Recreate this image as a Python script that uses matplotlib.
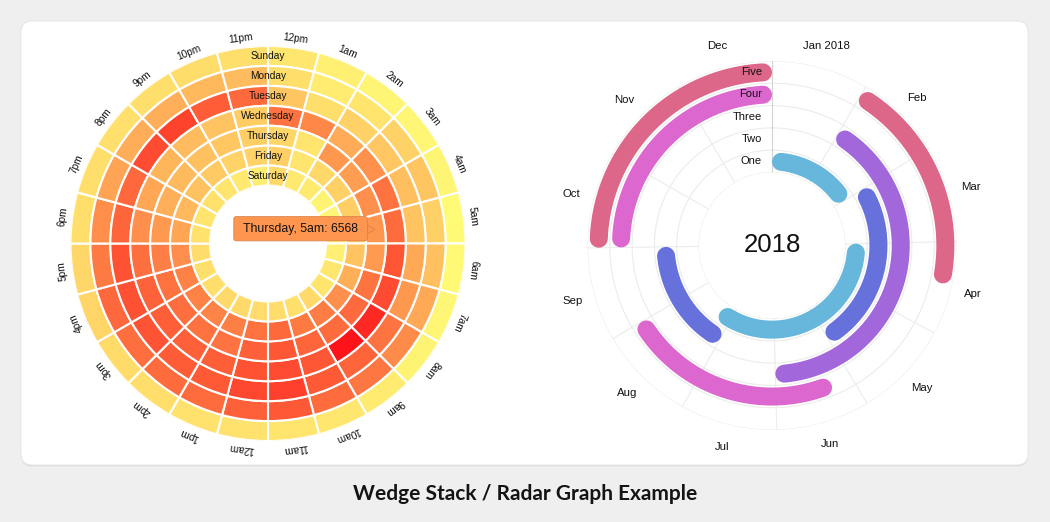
import numpy as np
import matplotlib
matplotlib.use("Agg")
import matplotlib.pyplot as plt
from matplotlib.colors import LinearSegmentedColormap, Normalize
from matplotlib.patches import FancyBboxPatch

plt.rcParams['font.family'] = ['Liberation Sans', 'DejaVu Sans']

# heat map data: hours clockwise from the top, days from the outer ring inwards
hours = ["12pm", "1am", "2am", "3am", "4am", "5am", "6am", "7am", "8am", "9am", "10am", "11am",
         "12am", "1pm", "2pm", "3pm", "4pm", "5pm", "6pm", "7pm", "8pm", "9pm", "10pm", "11pm"]
days = ["Sunday", "Monday", "Tuesday", "Wednesday", "Thursday", "Friday", "Saturday"]

sunday = [2990, 2520, 2334, 2230, 2325, 2019, 2128, 2246, 2421, 2788, 2959, 3018,
          3154, 3172, 3368, 3464, 3746, 3656, 3336, 3292, 3269, 3300, 3403, 3323]
monday = [3346, 2725, 3052, 3876, 4453, 3972, 4644, 5715, 7080, 8022, 8446, 9313,
          9011, 8508, 8515, 8399, 8649, 7869, 6933, 5969, 5552, 5434, 5070, 4851]
tuesday = [4468, 3306, 3906, 4413, 4726, 4584, 5717, 6504, 8104, 8813, 9278, 10425,
           10137, 9290, 9255, 9614, 9713, 9667, 8774, 8649, 9937, 10286, 9175, 8581]
wednesday = [8145, 7177, 5657, 6802, 8159, 8449, 9453, 9947, 11471, 12492, 9388, 9928,
             9644, 9034, 8964, 9069, 8898, 8322, 6909, 5810, 5151, 4911, 4487, 4118]
thursday = [3689, 3081, 6525, 6228, 6917, 6568, 6405, 8106, 8542, 8501, 8802, 9420,
            8966, 8135, 8224, 8387, 8218, 7641, 6469, 5441, 4952, 4643, 4393, 4017]
friday = [4022, 3063, 3638, 3968, 4070, 4019, 4548, 5465, 6909, 7706, 7867, 8615,
          8218, 7604, 7429, 7488, 7493, 6998, 5941, 5068, 4636, 4241, 3858, 3833]
saturday = [3503, 2842, 2808, 2399, 2280, 2139, 2527, 2940, 3066, 3494, 3287, 3416,
            3432, 3523, 3542, 3347, 3292, 3416, 3131, 3057, 3227, 3060, 2855, 2625]
heat = np.array([sunday, monday, tuesday, wednesday, thursday, friday, saturday])

tip_day, tip_hour = "Thursday", "5am"

# timeline data
categories = ["One", "Two", "Three", "Four", "Five"]
cat_colors = ["#67b7dc", "#6771dc", "#a367dc", "#dc67ce", "#dc6788"]
spans_one = [("2018-01-01", "2018-03-01"), ("2018-04-01", "2018-08-10")]
spans_two = [("2018-03-01", "2018-06-01"), ("2018-08-01", "2018-10-01")]
spans_three = [("2018-02-01", "2018-07-01")]
spans_four = [("2018-06-09", "2018-09-01"), ("2018-10-01", "2019-01-01")]
spans_five = [("2018-02-01", "2018-04-15"), ("2018-10-01", "2019-01-01")]
spans = [spans_one, spans_two, spans_three, spans_four, spans_five]
month_starts = ["2018-01-01", "2018-02-01", "2018-03-01", "2018-04-01", "2018-05-01", "2018-06-01",
                "2018-07-01", "2018-08-01", "2018-09-01", "2018-10-01", "2018-11-01", "2018-12-01",
                "2019-01-01"]
month_labels = ["Jan 2018", "Feb", "Mar", "Apr", "May", "Jun", "Jul", "Aug", "Sep", "Oct", "Nov", "Dec"]
year_label = "2018"

title = "Wedge Stack / Radar Graph Example"

W, H = 1050, 522
fig = plt.figure(figsize=(W / 100, H / 100), dpi=100)
fig.patch.set_facecolor('#efefef')

# card background in pixel coordinates
bg = fig.add_axes([0, 0, 1, 1])
bg.set_xlim(0, W)
bg.set_ylim(H, 0)
bg.axis('off')
bg.add_patch(FancyBboxPatch((21, 22.5), 1007, 444, boxstyle='round,pad=0,rounding_size=11',
                            fc='#d9d9d9', ec='none', alpha=0.7))
bg.add_patch(FancyBboxPatch((21, 21), 1007, 444, boxstyle='round,pad=0,rounding_size=11',
                            fc='white', ec='#e4e4e4', lw=0.6))
bg.text(525.5, 494, title, ha='center', va='center', fontsize=15, fontweight='bold',
        family=['Lato', 'DejaVu Sans'], color='#141414')


def polar_axes(cx, cy, r):
    ax = fig.add_axes([(cx - r) / W, (H - cy - r) / H, 2 * r / W, 2 * r / H], projection='polar')
    ax.set_theta_zero_location('N')
    ax.set_theta_direction(-1)
    ax.axis('off')
    return ax


# ---------------- left: heat map wedges
R_out, R_in = 197.5, 58
axl = polar_axes(268, 243.5, R_out)
n_days = len(days)
rorig = -R_in / R_out * n_days / (1 - R_in / R_out)
step = 2 * np.pi / len(hours)
theta = np.arange(len(hours)) * step + step / 2
cmap = LinearSegmentedColormap.from_list('heat', ['#fffb77', '#fe131a'])
norm = Normalize(heat.min(), heat.max())
for d, row in enumerate(heat):
    axl.bar(theta, 1, width=step, bottom=n_days - 1 - d, color=cmap(norm(row)),
            edgecolor='white', linewidth=1.5)
axl.set_ylim(0, n_days)
axl.set_rorigin(rorig)

r_lab = rorig + 1.048 * (n_days - rorig)
for t, lab in zip(theta, hours):
    axl.text(t, r_lab, lab, rotation=-np.degrees(t), rotation_mode='anchor',
             ha='center', va='center', fontsize=7.3, color='#111')
for d, day in enumerate(days):
    axl.text(0, n_days - 0.5 - d, day, ha='center', va='center', fontsize=7.3, color='#111')

di, hi = days.index(tip_day), hours.index(tip_hour)
val = heat[di, hi]
tip_col = cmap(norm(val))
axl.annotate(f" {tip_day}, {tip_hour}: {val} ", xy=(theta[hi], n_days - 0.5 - di),
             xytext=(-53.5, 0.5), textcoords='offset points', ha='center', va='center',
             fontsize=8.8, color='#111',
             bbox=dict(boxstyle='round,pad=0.5,rounding_size=0.2', fc=tip_col, ec='#d9824d', lw=0.6),
             arrowprops=dict(arrowstyle='wedge,tail_width=0.7', fc=tip_col, ec='#d9824d', lw=0.6,
                             shrinkA=0, shrinkB=0))

# ---------------- right: radar timeline
Rr_out, Rr_in = 184.5, 73
axr = polar_axes(772, 245.5, Rr_out)
n_cat = len(categories)
rorig_r = -Rr_in / Rr_out * n_cat / (1 - Rr_in / Rr_out)
axr.set_ylim(0, n_cat)
axr.set_rorigin(rorig_r)

t0 = np.datetime64(month_starts[0])
year_days = (np.datetime64(month_starts[-1]) - t0) / np.timedelta64(1, 'D')


def ang(date):
    return (np.datetime64(date) - t0) / np.timedelta64(1, 'D') / year_days * 2 * np.pi


full = np.linspace(0, 2 * np.pi, 400)
for k in range(n_cat + 1):
    axr.plot(full, np.full_like(full, k), color='#ececec', lw=0.8, zorder=1)
for m, ms in enumerate(month_starts[:-1]):
    a = ang(ms)
    axr.plot([a, a], [0, n_cat], color='#d2d2d2' if m == 0 else '#ececec', lw=0.8, zorder=1)

r_mlab = rorig_r + 1.122 * (n_cat - rorig_r)
for m, lab in enumerate(month_labels):
    mid = (ang(month_starts[m]) + ang(month_starts[m + 1])) / 2
    axr.text(mid, r_mlab, lab, ha='center', va='center', fontsize=8.2, color='#111')

band_px = (Rr_out - Rr_in) / n_cat
bar_px = 18
for k, (cat, col, sp) in enumerate(zip(categories, cat_colors, spans)):
    rp = Rr_in + (k + 0.5) * band_px
    cut = (bar_px / 2) / rp
    for s, e in sp:
        tt = np.linspace(ang(s) + cut, ang(e) - cut, 300)
        axr.plot(tt, np.full_like(tt, k + 0.5), color=col, lw=bar_px * 0.72,
                 solid_capstyle='round', zorder=3)
    axr.annotate(cat, xy=(0, k + 0.5), xytext=(-7.3, 0), textcoords='offset points',
                 ha='right', va='center', fontsize=8, color='#111', zorder=5)

axr.text(0.5, 0.5, year_label, transform=axr.transAxes, ha='center', va='center',
         fontsize=18.5, color='#111')

fig.savefig('out.png', dpi=100, facecolor=fig.get_facecolor())
